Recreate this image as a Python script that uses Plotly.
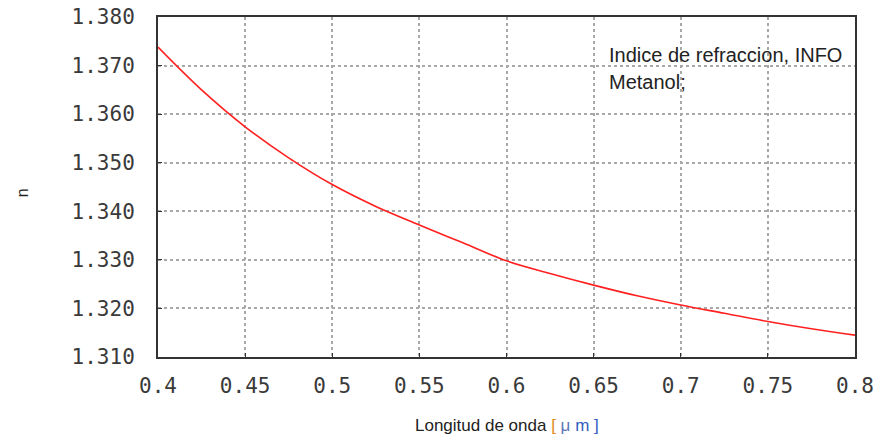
import plotly.graph_objects as go

wavelength_um = [0.400, 0.425, 0.450, 0.475, 0.500, 0.525, 0.550, 0.575, 0.600,
                 0.625, 0.650, 0.675, 0.700, 0.725, 0.750, 0.775, 0.800]
refr_index = [1.3738, 1.3650, 1.3574, 1.3510, 1.3455, 1.3410, 1.3372, 1.3335, 1.3298,
              1.3272, 1.3248, 1.3226, 1.3207, 1.3190, 1.3173, 1.3158, 1.3145]
x_ticks = [0.4, 0.45, 0.5, 0.55, 0.6, 0.65, 0.7, 0.75, 0.8]
x_tick_labels = ["0.4", "0.45", "0.5", "0.55", "0.6", "0.65", "0.7", "0.75", "0.8"]
y_ticks = [1.310, 1.320, 1.330, 1.340, 1.350, 1.360, 1.370, 1.380]
y_tick_labels = ["1.310", "1.320", "1.330", "1.340", "1.350", "1.360", "1.370", "1.380"]
legend_lines = ["Indice de refraccion, INFO", "Metanol;"]

fig = go.Figure()
fig.add_trace(go.Scatter(x=wavelength_um, y=refr_index, mode="lines",
                         line=dict(color="#ff2020", width=1.6, shape="spline"),
                         showlegend=False))

axis_common = dict(showline=True, linecolor="#333333", linewidth=2, mirror=True,
                   showgrid=True, gridcolor="#a8a8a8", griddash="dot", gridwidth=1.5,
                   ticks="inside", ticklen=4, tickcolor="#333333", zeroline=False,
                   automargin=False, ticklabeloverflow="allow",
                   tickfont=dict(family="DejaVu Sans Mono", size=21, color="#3a3a3a"))

fig.update_xaxes(range=[0.4, 0.8], tickvals=x_ticks, ticktext=x_tick_labels,
                 ticklabelstandoff=9, **axis_common)
fig.update_yaxes(range=[1.310, 1.380], tickvals=y_ticks, ticktext=y_tick_labels,
                 ticklabelstandoff=17, **axis_common)

fig.add_annotation(x=0.5, y=-0.2, xref="x domain", yref="y domain", yanchor="middle",
                   xanchor="center", showarrow=False,
                   text="Longitud de onda <span style='color:#e08a20'>[</span> "
                        "<span style='color:#5a78b8'>μ</span> "
                        "<span style='color:#3060c0'>m</span> "
                        "<span style='color:#3060c0'>]</span>",
                   font=dict(family="Liberation Sans", size=17, color="#222222"))
fig.add_annotation(x=-0.21, y=0.482, xref="x domain", yref="y domain", showarrow=False,
                   text="n", textangle=-90,
                   font=dict(family="Liberation Sans", size=16, color="#222222"))

fig.add_annotation(x=0.644, y=0.888, xref="x domain", yref="y domain", xanchor="left",
                   yanchor="middle", showarrow=False, text=legend_lines[0],
                   font=dict(family="Liberation Sans", size=20, color="#222222"))
fig.add_annotation(x=0.644, y=0.81, xref="x domain", yref="y domain", xanchor="left",
                   yanchor="middle", showarrow=False, text=legend_lines[1],
                   font=dict(family="Liberation Sans", size=20, color="#222222"))

fig.update_layout(width=875, height=438, margin=dict(l=158, r=20, t=17, b=81),
                  plot_bgcolor="white", paper_bgcolor="white")
fig.write_html("out.html", config={"displayModeBar": False},
               post_script="document.body.style.margin='0px';")
